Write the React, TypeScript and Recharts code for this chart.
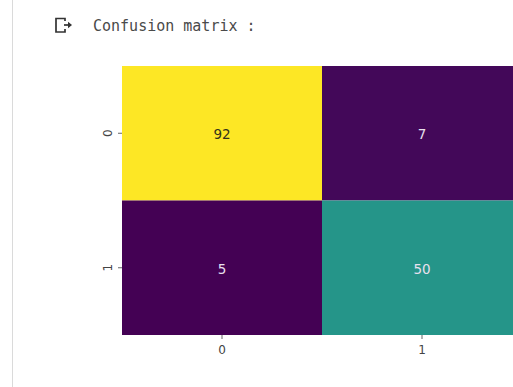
import { BarChart, Bar, XAxis, YAxis, Cell, LabelList } from 'recharts';

// confusion matrix: rows = true class, columns = predicted class
const classLabels = ['0', '1'];
const row0Counts = [92, 7];
const row1Counts = [5, 50];

const allCounts = [...row0Counts, ...row1Counts];
const vmin = Math.min(...allCounts);
const vmax = Math.max(...allCounts);

// a few viridis anchors, linearly blended
const viridisStops = [
  [68, 1, 84],
  [59, 82, 139],
  [33, 145, 140],
  [94, 201, 98],
  [253, 231, 37],
];

const viridis = (v: number) => {
  const t = Math.max(0, Math.min(1, (v - vmin) / (vmax - vmin)));
  const pos = t * (viridisStops.length - 1);
  const i = Math.min(Math.floor(pos), viridisStops.length - 2);
  const f = pos - i;
  const c = viridisStops[i].map((a, k) => Math.round(a + (viridisStops[i + 1][k] - a) * f));
  return `rgb(${c[0]}, ${c[1]}, ${c[2]})`;
};

const textColor = (v: number) => {
  const t = (v - vmin) / (vmax - vmin);
  return t > 0.6 ? '#33331a' : '#e8e0ee';
};

// one entry per predicted class (column); each row is a stacked block of height 1
const data = classLabels.map((cls, i) => ({
  cls,
  r0: 1,
  r1: 1,
  v0: row0Counts[i],
  v1: row1Counts[i],
}));

const CellLabel = (props: any) => {
  const { x, y, width, height, value } = props;
  return (
    <text
      x={x + width / 2}
      y={y + height / 2 + 1}
      textAnchor="middle"
      dominantBaseline="central"
      fontSize={13.5}
      fontFamily="'DejaVu Sans', sans-serif"
      fill={textColor(value)}
    >
      {value}
    </text>
  );
};

const RowTick = (props: any) => {
  const { x, y, payload } = props;
  const label = classLabels[Math.floor(payload.value)];
  return (
    <text
      x={x - 4}
      y={y}
      transform={`rotate(-90, ${x - 4}, ${y})`}
      textAnchor="middle"
      fontSize={12}
      fontFamily="'DejaVu Sans', sans-serif"
      fill="#444"
    >
      {label}
    </text>
  );
};

const ExitIcon = () => (
  <svg width={22} height={18} viewBox="0 0 22 18" style={{ position: 'absolute', left: 54, top: 16 }}>
    <path d="M11 5 V2.5 H2 V16 H11 V13" fill="none" stroke="#333" strokeWidth={1.7} />
    <path d="M10 9 H16" stroke="#333" strokeWidth={1.7} />
    <path d="M14 5.8 L18 9 L14 12.2 Z" fill="#333" />
  </svg>
);

const App = () => {
  return (
    <div
      style={{
        position: 'fixed',
        left: 0,
        top: 0,
        width: 513,
        height: 387,
        overflow: 'hidden',
        background: '#fff',
      }}
    >
      <div style={{ position: 'absolute', left: 12, top: 0, width: 1, height: 387, background: '#dadada' }} />
      <ExitIcon />
      <div
        style={{
          position: 'absolute',
          left: 93,
          top: 16,
          fontFamily: "'DejaVu Sans Mono', monospace",
          fontSize: 15,
          lineHeight: '20px',
          color: '#4a4a4a',
          whiteSpace: 'pre',
        }}
      >
        Confusion matrix :
      </div>
      <div style={{ position: 'absolute', left: 0, top: 0 }}>
        <BarChart
          width={540}
          height={387}
          data={data}
          margin={{ top: 66, right: 18, bottom: 22, left: 62 }}
          barCategoryGap={0}
          barGap={0}
        >
          <XAxis
            dataKey="cls"
            axisLine={false}
            tickLine={{ stroke: '#666' }}
            tickSize={4}
            tickMargin={6}
            height={30}
            tick={{ fill: '#444', fontSize: 12, fontFamily: "'DejaVu Sans', sans-serif" }}
          />
          <YAxis
            type="number"
            domain={[0, 2]}
            ticks={[0.5, 1.5]}
            reversed
            width={60}
            axisLine={false}
            tickLine={{ stroke: '#666' }}
            tickSize={4}
            tick={<RowTick />}
          />
          <Bar dataKey="r0" stackId="m" isAnimationActive={false}>
            {data.map((d, i) => (
              <Cell key={`r0-${i}`} fill={viridis(d.v0)} />
            ))}
            <LabelList dataKey="v0" content={<CellLabel />} />
          </Bar>
          <Bar dataKey="r1" stackId="m" isAnimationActive={false}>
            {data.map((d, i) => (
              <Cell key={`r1-${i}`} fill={viridis(d.v1)} />
            ))}
            <LabelList dataKey="v1" content={<CellLabel />} />
          </Bar>
        </BarChart>
      </div>
    </div>
  );
};

export default App;
